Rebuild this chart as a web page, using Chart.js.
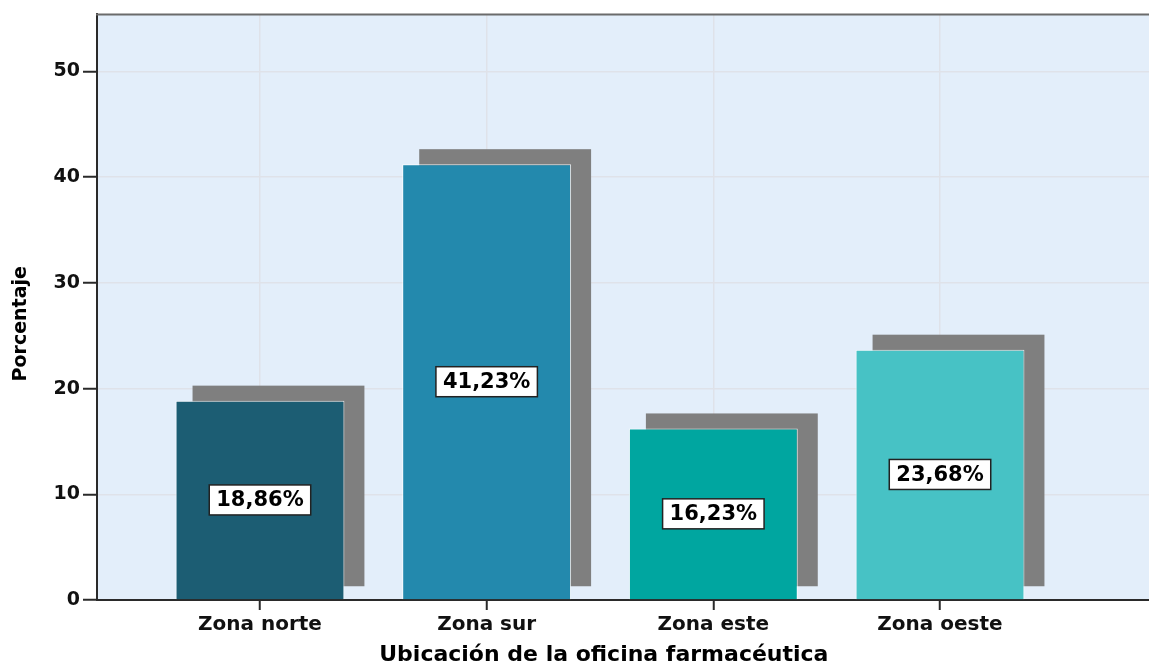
<!DOCTYPE html>
<html><head><meta charset="utf-8">
<script src="https://cdn.jsdelivr.net/npm/chart.js@4"></script>
<style>html,body{margin:0;padding:0;background:#fff;overflow:hidden}</style>
</head><body>
<canvas id="c" width="1149" height="667"></canvas>
<script>
const categories = ['Zona norte', 'Zona sur', 'Zona este', 'Zona oeste'];
const values = [18.86, 41.23, 16.23, 23.68];
const barColors = ['#1c5d73', '#2389ad', '#00a6a0', '#47c2c5'];
const yTicks = [0, 10, 20, 30, 40, 50];
const xTitle = 'Ubicación de la oficina farmacéutica';
const yTitle = 'Porcentaje';

const FONT = "'DejaVu Sans', Arial, sans-serif";
const PLOT_BG = '#e3eefa';
const GRID = '#dfe2e9';
const AXIS = '#2a2a2a';
const SHADOW = '#7f7f7f';

const plotBg = {
  id: 'plotBg',
  beforeDraw(chart) {
    const {ctx, chartArea: a} = chart;
    ctx.save();
    ctx.fillStyle = PLOT_BG;
    ctx.fillRect(a.left, a.top, a.right - a.left, a.bottom - a.top);
    ctx.restore();
  },
  afterDraw(chart) {
    const {ctx, chartArea: a} = chart;
    ctx.save();
    ctx.strokeStyle = '#6b6b6b';
    ctx.lineWidth = 2;
    ctx.beginPath();
    ctx.moveTo(a.left - 1, a.top);
    ctx.lineTo(chart.width, a.top);
    ctx.stroke();
    ctx.restore();
  }
};

const shadows = {
  id: 'shadows',
  beforeDatasetsDraw(chart) {
    const {ctx} = chart;
    const meta = chart.getDatasetMeta(0);
    ctx.save();
    ctx.fillStyle = SHADOW;
    meta.data.forEach(el => {
      const p = el.getProps(['x', 'y', 'base', 'width'], true);
      const l = p.x - p.width / 2 + 17;
      const r = p.x + p.width / 2 + 20;
      const t = p.y - 15;
      const b = p.base - 13;
      ctx.fillRect(l, t, r - l, b - t);
    });
    ctx.restore();
  }
};

const valueLabels = {
  id: 'valueLabels',
  afterDatasetsDraw(chart) {
    const {ctx} = chart;
    const meta = chart.getDatasetMeta(0);
    ctx.save();
    ctx.font = "bold 21px " + FONT;
    ctx.textAlign = 'center';
    ctx.textBaseline = 'middle';
    meta.data.forEach((el, i) => {
      const p = el.getProps(['x', 'y', 'base'], true);
      const txt = values[i].toFixed(2).replace('.', ',') + '%';
      const w = ctx.measureText(txt).width + 14;
      const h = 30;
      const cx = p.x, cy = (p.y + p.base) / 2;
      ctx.fillStyle = '#ffffff';
      ctx.fillRect(cx - w / 2, cy - h / 2, w, h);
      ctx.strokeStyle = '#222';
      ctx.lineWidth = 1.5;
      ctx.strokeRect(cx - w / 2, cy - h / 2, w, h);
      ctx.fillStyle = '#000';
      ctx.fillText(txt, cx, cy + 1);
    });
    ctx.restore();
  }
};

new Chart(document.getElementById('c'), {
  type: 'bar',
  data: {
    datasets: [{
      data: values.map((v, i) => ({x: i + 1, y: v})),
      backgroundColor: barColors,
      borderColor: 'rgba(255,255,255,0.85)',
      borderWidth: 1,
      barPercentage: 0.745,
      categoryPercentage: 1
    }]
  },
  plugins: [plotBg, shadows, valueLabels],
  options: {
    responsive: false,
    animation: false,
    devicePixelRatio: 1,
    layout: {padding: {top: 13, right: 0, left: 0, bottom: 0}},
    plugins: {legend: {display: false}, tooltip: {enabled: false}},
    scales: {
      x: {
        type: 'linear',
        offset: false,
        min: 0.281,
        max: 4.922,
        afterBuildTicks(s) { s.ticks = categories.map((c, i) => ({value: i + 1})); },
        afterFit(s) { s.height = 67; },
        ticks: {
          callback: v => categories[v - 1] || '',
          font: {family: FONT, size: 20, weight: 'bold'},
          color: '#111',
          padding: 3,
          maxRotation: 0,
          autoSkip: false
        },
        grid: {offset: false, color: GRID, lineWidth: 1.5, tickColor: AXIS, tickLength: 10, tickWidth: 2},
        border: {color: AXIS, width: 2},
        title: {
          display: true,
          text: xTitle + '\u00A0\u00A0\u00A0\u00A0\u00A0',
          font: {family: FONT, size: 22, weight: 'bold'},
          color: '#000',
          padding: {top: 0, bottom: -1}
        }
      },
      y: {
        min: 0,
        max: 55.4,
        afterBuildTicks(s) { s.ticks = yTicks.map(v => ({value: v})); },
        afterFit(s) { s.width = 97; },
        ticks: {
          font: {family: FONT, size: 19, weight: 'bold'},
          color: '#111',
          padding: 3
        },
        grid: {
          color: c => (c.tick && c.tick.value === 0) ? 'rgba(0,0,0,0)' : GRID,
          lineWidth: 1.5,
          tickColor: AXIS, tickLength: 14, tickWidth: 2
        },
        border: {color: AXIS, width: 2},
        title: {
          display: true,
          text: yTitle + '\u00A0\u00A0\u00A0\u00A0\u00A0',
          font: {family: FONT, size: 19, weight: 'bold'},
          color: '#000',
          padding: {top: 10, bottom: 0}
        }
      }
    }
  }
});
</script>
</body></html>
